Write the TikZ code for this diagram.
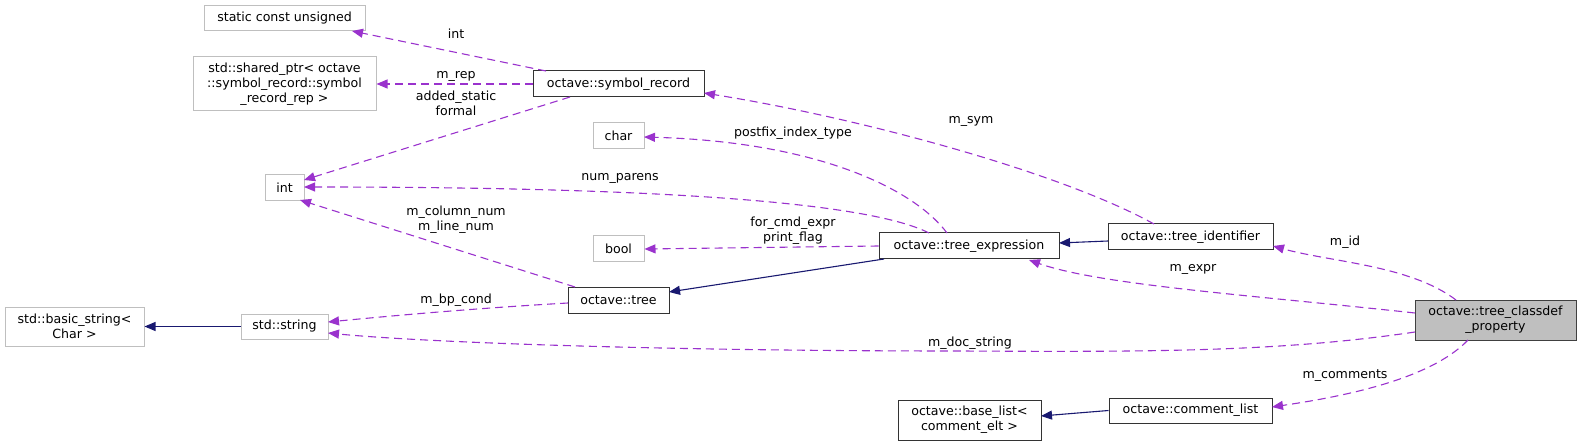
\documentclass[tikz,border=0pt]{standalone}
\usepackage{fontspec}
\setmainfont{DejaVu Sans}
\usetikzlibrary{arrows.meta}
\definecolor{edgep}{HTML}{9A32CD}
\definecolor{navy}{HTML}{191970}
\definecolor{greyb}{HTML}{BFBFBF}
\begin{document}
\begin{tikzpicture}[x=1pt,y=-1pt,
  every node/.style={font=\fontsize{12.6}{14.8}\selectfont, inner sep=0pt, align=center},
  gbox/.style={draw=greyb, line width=1pt, fill=white},
  bbox/.style={draw=black!80, line width=1pt, fill=white},
  mainbox/.style={draw=black!75, line width=1pt, fill=greyb},
  uses/.style={draw=edgep, line width=1.1pt, dash pattern=on 8pt off 5pt, -{Triangle[length=11pt,width=9pt]}},
  inh/.style={draw=navy, line width=1.1pt, -{Triangle[length=11pt,width=9pt]}},
  lbl/.style={font=\fontsize{12.6}{14.8}\selectfont}]
\useasboundingbox (0,0) rectangle (1581,446);

% nodes
\node[gbox, minimum width=161pt, minimum height=25pt] (scu) at (284.5,18.5) {static const unsigned};
\node[gbox, minimum width=183pt, minimum height=54pt] (sp) at (284.5,84) {std::shared\_ptr< octave\\::symbol\_record::symbol\\\_record\_rep >};
\node[bbox, minimum width=171pt, minimum height=26pt] (sr) at (618.5,84) {octave::symbol\_record};
\node[gbox, minimum width=39pt, minimum height=26pt] (int) at (284.5,188) {int};
\node[gbox, minimum width=51pt, minimum height=26pt] (char) at (618.5,136) {char};
\node[gbox, minimum width=51pt, minimum height=26pt] (bool) at (618.5,249) {bool};
\node[bbox, minimum width=180pt, minimum height=26pt] (te) at (969,246) {octave::tree\_expression};
\node[bbox, minimum width=165pt, minimum height=26pt] (ti) at (1190.5,237) {octave::tree\_identifier};
\node[bbox, minimum width=101pt, minimum height=26pt] (tree) at (618.5,300) {octave::tree};
\node[gbox, minimum width=139pt, minimum height=39pt] (bs) at (74.5,326.5) {std::basic\_string<\\Char >};
\node[gbox, minimum width=87pt, minimum height=25pt] (str) at (284.5,326.5) {std::string};
\node[mainbox, minimum width=161pt, minimum height=40pt] (cp) at (1495.5,320) {octave::tree\_classdef\\\_property};
\node[bbox, minimum width=163pt, minimum height=25pt] (cl) at (1190.5,410.5) {octave::comment\_list};
\node[bbox, minimum width=143pt, minimum height=40pt] (bl) at (969.5,420) {octave::base\_list<\\comment\_elt >};

% coordinates on borders
\coordinate (srT) at (546,71);
\coordinate (srL) at (sr.west);
\coordinate (srB) at (570,97);
\coordinate (srR) at (704,93);
\coordinate (scuB) at (352,31);
\coordinate (intR1) at (304,180);
\coordinate (intR2) at (304,187);
\coordinate (intB) at (300,200);
\coordinate (teT1) at (947,233);
\coordinate (teT2) at (929,233);
\coordinate (teBL) at (884,259);
\coordinate (teB) at (1029,260);
\coordinate (teR) at (1059,243);
\coordinate (tiL) at (1108,241);
\coordinate (charR) at (644,137);
\coordinate (treeR) at (669,292);
\coordinate (treeT) at (575,287);
\coordinate (treeL) at (568,303);
\coordinate (strR1) at (328,322);
\coordinate (strR2) at (328,333);
\coordinate (tiT) at (1154,224);
\coordinate (tiR) at (1273,246);
\coordinate (cpT) at (1456,300);
\coordinate (cpL1) at (1415,313);
\coordinate (cpL2) at (1415,332);
\coordinate (cpB) at (1468,340);
\coordinate (clR) at (1272,407);
\coordinate (blR) at (1041,416);

% inheritance
\draw[inh] (str.west) -- (bs.east);
\draw[inh] (teBL) -- (treeR);
\draw[inh] (tiL) -- (teR);
\draw[inh] (cl.west) -- (blR);

% usage edges
\draw[uses] (srT) -- (scuB);
\draw[uses] (srL) -- (sp.east);
\draw[uses] (srB) -- (intR1);
\draw[uses] (teT1) .. controls (915,190) and (820,142) .. (charR);
\draw[uses] (teT2) .. controls (880,208) and (720,187) .. (intR2);
\draw[uses] (te.west) -- (bool.east);
\draw[uses] (treeT) -- (intB);
\draw[uses] (treeL) .. controls (480,308) and (400,315) .. (strR1);
\draw[uses] (tiT) .. controls (1060,172) and (860,118) .. (srR);
\draw[uses] (cpT) .. controls (1410,265) and (1330,262) .. (tiR);
\draw[uses] (cpL1) .. controls (1250,295) and (1100,285) .. (teB);
\draw[uses] (cpL2) .. controls (1280,352) and (1150,352) .. (960,351) .. controls (650,351) and (420,342) .. (strR2);
\draw[uses] (cpB) .. controls (1430,380) and (1340,397) .. (clR);

% labels
\node[lbl] (l1) at (456,34) {int};
\node[lbl] (l2) at (456,76) {m\_rep};
\node[lbl] (l3) at (456,103) {added\_static\\formal};
\node[lbl] (l4) at (971,121) {m\_sym};
\node[lbl] (l5) at (793,133) {postfix\_index\_type};
\node[lbl] (l6) at (620,178) {num\_parens};
\node[lbl] (l7) at (793,231) {for\_cmd\_expr\\print\_flag};
\node[lbl] (l8) at (456,220) {m\_column\_num\\m\_line\_num};
\node[lbl] (l9) at (456,300) {m\_bp\_cond};
\node[lbl] (l10) at (1345,242) {m\_id};
\node[lbl] (l11) at (1193,269) {m\_expr};
\node[lbl] (l12) at (970,343) {m\_doc\_string};
\node[lbl] (l13) at (1345,376) {m\_comments};
\end{tikzpicture}
\end{document}
